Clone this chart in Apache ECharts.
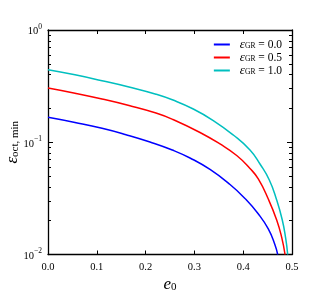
<!DOCTYPE html>
<html><head><meta charset="utf-8">
<script src="https://cdn.jsdelivr.net/npm/echarts@6/dist/echarts.min.js"></script>
<style>html,body{margin:0;padding:0;background:#fff}#c{width:325px;height:300px}</style>
</head><body><div id="c"></div>
<script>
// ---- data ----
const grLabels = ['0.0', '0.5', '1.0'];
const lineColors = ['#0000ff', '#ff0000', '#00bfbf'];
const e0Blue = [0, 0.0553, 0.1107, 0.1598, 0.2090, 0.2547, 0.2910, 0.3320, 0.3730, 0.4037, 0.4303, 0.4514, 0.4652, 0.4707];
const epsBlue = [0.1668, 0.1500, 0.1331, 0.1168, 0.1005, 0.0853, 0.0724, 0.0572, 0.0420, 0.03154, 0.02318, 0.0169, 0.01215, 0.0100];
const e0Red = [0, 0.0553, 0.1107, 0.1660, 0.2213, 0.2561, 0.3115, 0.3525, 0.3867, 0.4139, 0.4309, 0.4514, 0.4686, 0.4789, 0.4857];
const epsRed = [0.3043, 0.2735, 0.2428, 0.2126, 0.1822, 0.1595, 0.1222, 0.0965, 0.0762, 0.0584, 0.0471, 0.0312, 0.0203, 0.0142, 0.0100];
const e0Cyan = [0, 0.0553, 0.1107, 0.1660, 0.2213, 0.2547, 0.2977, 0.3387, 0.3797, 0.4139, 0.4344, 0.4535, 0.4686, 0.4801, 0.4871, 0.4912];
const epsCyan = [0.4428, 0.3990, 0.3534, 0.3106, 0.2680, 0.2388, 0.1978, 0.1562, 0.1160, 0.0853, 0.0640, 0.0461, 0.0306, 0.0203, 0.0139, 0.0100];
const xMin = 0, xMax = 0.5, xStep = 0.1;
const yMin = 0.01, yMax = 1;
const yMajorTicks = [0.01, 0.1, 1];
const yMinorTicks = [0.02,0.03,0.04,0.05,0.06,0.07,0.08,0.09,0.2,0.3,0.4,0.5,0.6,0.7,0.8,0.9];

const FONT = 'Liberation Serif';
const zip = (xs, ys) => xs.map((x, i) => [x, ys[i]]);
const seriesData = [zip(e0Blue, epsBlue), zip(e0Red, epsRed), zip(e0Cyan, epsCyan)];
const names = grLabels.map(g => 'εGR = ' + g);

const chart = echarts.init(document.getElementById('c'), null, {renderer: 'canvas'});
const axisLine = {show: true, lineStyle: {color: '#000', width: 1.3}};
const supRich = {
  b: {fontFamily: FONT, fontSize: 10.5, color: '#000', lineHeight: 14, verticalAlign: 'bottom'},
  s: {fontFamily: FONT, fontSize: 7.5, color: '#000', lineHeight: 8, verticalAlign: 'top', padding: [0, 0, 2, 0]}
};
const supLabel = v => {
  const p = Math.round(Math.log10(v));
  return '{b|10}{s|' + (p < 0 ? '−' + (-p) : p) + '}';
};
const xLabel = v => v.toFixed(1);
const logAxisBase = {type: 'log', logBase: 10, min: yMin, max: yMax, splitLine: {show: false}, minorTick: {show: false}};
const tickStyle = {color: '#000', width: 1};

chart.setOption({
  animation: false,
  backgroundColor: '#fff',
  grid: {left: 48, right: 33, top: 30, bottom: 45.5, containLabel: false, outerBoundsMode: 'none'},
  legend: {
    orient: 'vertical', right: 38, top: 33, itemWidth: 16, itemHeight: 2, itemGap: 0,
    icon: 'rect',
    data: names,
    formatter: n => '{e|ε}{g|GR}{t| = ' + n.split('= ')[1] + '}',
    textStyle: {
      rich: {
        e: {fontFamily: FONT, fontSize: 13, fontStyle: 'italic', color: '#000', lineHeight: 12, padding: [0, 0, 0, 5]},
        g: {fontFamily: FONT, fontSize: 7.5, color: '#000', lineHeight: 6, verticalAlign: 'bottom'},
        t: {fontFamily: FONT, fontSize: 11.5, color: '#000', lineHeight: 12}
      }
    }
  },
  xAxis: [{
    type: 'value', min: xMin, max: xMax, interval: xStep,
    axisLine, splitLine: {show: false},
    axisTick: {show: true, inside: true, length: 4, lineStyle: tickStyle},
    axisLabel: {formatter: xLabel, fontFamily: FONT, fontSize: 10.5, color: '#000', margin: 7},
    name: '{e|e}{z|0}', nameLocation: 'middle', nameGap: 22, nameMoveOverlap: false,
    nameTextStyle: {verticalAlign: 'top', rich: {
      e: {fontFamily: FONT, fontSize: 17, fontStyle: 'italic', color: '#000', lineHeight: 16},
      z: {fontFamily: FONT, fontSize: 11, color: '#000', lineHeight: 8, verticalAlign: 'bottom'}
    }}
  }, {
    type: 'value', position: 'top', min: xMin, max: xMax, interval: xStep,
    axisLine, splitLine: {show: false}, axisLabel: {show: false},
    axisTick: {show: true, inside: true, length: 4, lineStyle: tickStyle}
  }],
  yAxis: [Object.assign({}, logAxisBase, {
    position: 'left', axisLine,
    axisTick: {show: true, inside: true, length: 5, customValues: yMajorTicks, lineStyle: tickStyle},
    axisLabel: {formatter: supLabel, rich: supRich, margin: 6, customValues: yMajorTicks},
    name: '{e|ε}{s|oct, min}', nameLocation: 'middle', nameGap: 27, nameRotate: 90, nameMoveOverlap: false,
    nameTextStyle: {rich: {
      e: {fontFamily: FONT, fontSize: 17, fontStyle: 'italic', color: '#000', lineHeight: 16},
      s: {fontFamily: FONT, fontSize: 11, color: '#000', lineHeight: 8, verticalAlign: 'bottom'}
    }}
  }), Object.assign({}, logAxisBase, {
    position: 'left', axisLine: {show: false}, axisLabel: {show: false},
    axisTick: {show: true, inside: true, length: 3, customValues: yMinorTicks, lineStyle: tickStyle}
  }), Object.assign({}, logAxisBase, {
    position: 'right', axisLine, axisLabel: {show: false},
    axisTick: {show: true, inside: true, length: 5, customValues: yMajorTicks, lineStyle: tickStyle}
  }), Object.assign({}, logAxisBase, {
    position: 'right', axisLine: {show: false}, axisLabel: {show: false},
    axisTick: {show: true, inside: true, length: 3, customValues: yMinorTicks, lineStyle: tickStyle}
  })],
  series: seriesData.map((d, i) => ({
    name: names[i], type: 'line', data: d, smooth: 0.5,
    showSymbol: false, symbol: 'none', clip: true,
    lineStyle: {color: lineColors[i], width: 1.5}, itemStyle: {color: lineColors[i]}
  }))
});
</script></body></html>
